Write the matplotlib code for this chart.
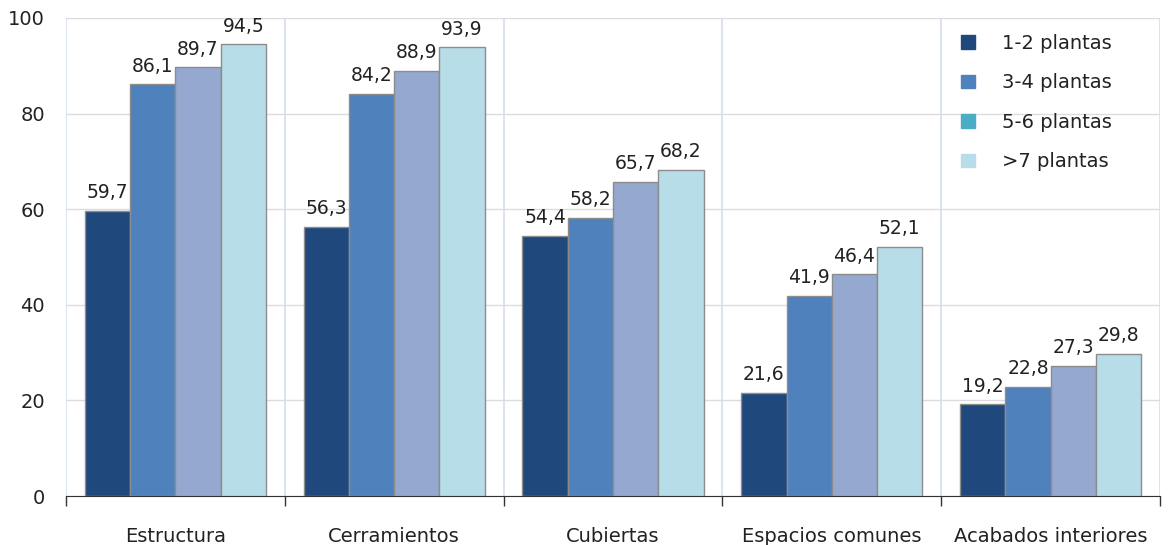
import numpy as np
import matplotlib.pyplot as plt
from matplotlib.patches import Patch

categories = ["Estructura", "Cerramientos", "Cubiertas", "Espacios comunes", "Acabados interiores"]
series = ["1-2 plantas", "3-4 plantas", "5-6 plantas", ">7 plantas"]
v12 = [59.7, 56.3, 54.4, 21.6, 19.2]
v34 = [86.1, 84.2, 58.2, 41.9, 22.8]
v56 = [89.7, 88.9, 65.7, 46.4, 27.3]
v7 = [94.5, 93.9, 68.2, 52.1, 29.8]

bar_colors = ["#1f497d", "#4f81bd", "#95a8d0", "#b7dde8"]
legend_colors = ["#1f497d", "#4f81bd", "#4bacc6", "#b7dde8"]

plt.rcParams["font.family"] = ["DejaVu Sans"]

fig = plt.figure(figsize=(11.72, 5.45), dpi=100)
ax = fig.add_axes([66 / 1172, 49 / 545, 1094 / 1172, 478 / 545])

x = np.arange(len(categories))
w = 0.207
offs = np.array([-1.5, -0.5, 0.5, 1.5]) * w
for vals, off, c in zip([v12, v34, v56, v7], offs, bar_colors):
    bars = ax.bar(x + off, vals, w, color=c, edgecolor="#8c8c8c", linewidth=1, zorder=3)
    for b, v in zip(bars, vals):
        ax.text(b.get_x() + b.get_width() / 2, v + 1.8, f"{v:.1f}".replace(".", ","),
                ha="center", va="bottom", fontsize=13.5, color="#222222", zorder=4)

ax.set_xlim(-0.5, len(categories) - 0.5)
ax.set_ylim(0, 100)
ax.set_yticks(range(0, 101, 20))
ax.grid(axis="y", color="#dcdcdc", linewidth=1, zorder=0)
for b in np.arange(-0.5, len(categories), 1):
    ax.axvline(b, color="#d5deee", linewidth=1.2, zorder=1)

ax.set_xticks(x)
ax.set_xticklabels(categories, fontsize=14)
ax.tick_params(axis="x", length=0, pad=22, colors="#222222")
ax.set_xticks(np.arange(-0.5, len(categories), 1), minor=True)
ax.tick_params(axis="x", which="minor", length=7, width=1, color="#333333", direction="out")
ax.tick_params(axis="y", length=0, labelsize=14, pad=15, colors="#222222")

for s in ["top", "right", "left"]:
    ax.spines[s].set_visible(False)
ax.spines["bottom"].set_color("#333333")

handles = [Patch(color=c) for c in legend_colors]
fig.legend(handles, series, loc="upper left", bbox_to_anchor=(961 / 1172, 1 - 34 / 545),
           frameon=False, borderpad=0, borderaxespad=0, fontsize=14,
           handlelength=0.7, handleheight=0.7, handletextpad=1.4, labelspacing=1.05,
           labelcolor="#222222")

fig.savefig("out.png", dpi=100)
